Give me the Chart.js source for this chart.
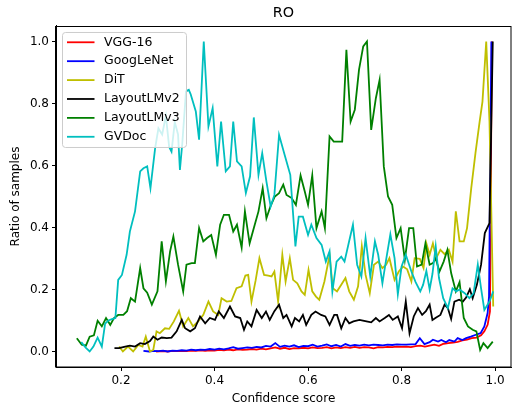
<!DOCTYPE html>
<html>
<head>
<meta charset="utf-8">
<script src="https://cdn.jsdelivr.net/npm/chart.js@4.4.1/dist/chart.umd.min.js"></script>
<style>
  html, body { margin: 0; padding: 0; background: #fff; }
</style>
</head>
<body>
<canvas id="roChart" width="514" height="407"></canvas>
<script>
// series names, in legend order
const seriesNames = ['VGG-16', 'GoogLeNet', 'DiT', 'LayoutLMv2', 'LayoutLMv3', 'GVDoc'];

const xTicks = [0.2, 0.4, 0.6, 0.8, 1.0];
const yTicks = [0.0, 0.2, 0.4, 0.6, 0.8, 1.0];

// VGG-16
const vggX = [0.275, 0.29, 0.30, 0.31, 0.32, 0.33, 0.34, 0.35, 0.36, 0.37,
  0.38, 0.39, 0.40, 0.41, 0.42, 0.43, 0.44, 0.45, 0.46, 0.47,
  0.48, 0.49, 0.50, 0.51, 0.52, 0.53, 0.54, 0.55, 0.56, 0.57,
  0.58, 0.59, 0.60, 0.61, 0.62, 0.63, 0.64, 0.65, 0.66, 0.67,
  0.68, 0.69, 0.70, 0.71, 0.72, 0.73, 0.74, 0.75, 0.76, 0.77,
  0.78, 0.79, 0.80, 0.81, 0.82, 0.83, 0.84, 0.85, 0.86, 0.87,
  0.88, 0.89, 0.90, 0.91, 0.92, 0.93, 0.94, 0.95, 0.96, 0.97,
  0.977, 0.984, 0.989, 0.993];
const vggY = [0.000, 0.001, 0.000, 0.002, 0.001, 0.002, 0.001, 0.003, 0.002, 0.004,
  0.002, 0.004, 0.003, 0.005, 0.004, 0.006, 0.004, 0.007, 0.005, 0.006,
  0.008, 0.006, 0.009, 0.007, 0.010, 0.013, 0.009, 0.012, 0.008, 0.011,
  0.010, 0.012, 0.010, 0.013, 0.011, 0.012, 0.014, 0.010, 0.013, 0.011,
  0.014, 0.012, 0.015, 0.012, 0.014, 0.013, 0.010, 0.014, 0.013, 0.015,
  0.014, 0.016, 0.015, 0.016, 0.014, 0.017, 0.019, 0.016, 0.019, 0.022,
  0.018, 0.025, 0.027, 0.029, 0.031, 0.036, 0.038, 0.043, 0.045, 0.052,
  0.065, 0.086, 0.129, 1.000];

// GoogLeNet
const googlenetX = [0.248, 0.26, 0.27, 0.28, 0.29, 0.30, 0.31, 0.32, 0.33, 0.34,
  0.35, 0.36, 0.37, 0.38, 0.39, 0.40, 0.41, 0.42, 0.43, 0.44,
  0.45, 0.46, 0.47, 0.48, 0.49, 0.50, 0.51, 0.52, 0.53, 0.54,
  0.55, 0.56, 0.57, 0.58, 0.59, 0.60, 0.61, 0.62, 0.63, 0.64,
  0.65, 0.66, 0.67, 0.68, 0.69, 0.70, 0.71, 0.72, 0.73, 0.74,
  0.75, 0.76, 0.77, 0.78, 0.79, 0.80, 0.81, 0.82, 0.83, 0.839,
  0.849, 0.86, 0.867, 0.878, 0.885, 0.895, 0.902, 0.913, 0.92, 0.93,
  0.938, 0.948, 0.959, 0.969, 0.977, 0.984, 0.987, 0.992];
const googlenetY = [0.002, 0.000, 0.002, 0.001, 0.003, 0.000, 0.003, 0.002, 0.004, 0.003,
  0.006, 0.004, 0.006, 0.005, 0.008, 0.006, 0.009, 0.007, 0.010, 0.014,
  0.009, 0.011, 0.013, 0.012, 0.015, 0.013, 0.018, 0.016, 0.027, 0.015,
  0.019, 0.016, 0.020, 0.014, 0.018, 0.017, 0.022, 0.016, 0.019, 0.023,
  0.017, 0.021, 0.016, 0.024, 0.018, 0.021, 0.019, 0.022, 0.020, 0.022,
  0.021, 0.020, 0.022, 0.021, 0.023, 0.022, 0.022, 0.023, 0.024, 0.043,
  0.024, 0.030, 0.038, 0.032, 0.037, 0.030, 0.037, 0.032, 0.043, 0.037,
  0.043, 0.048, 0.054, 0.059, 0.081, 0.124, 0.177, 1.000];

// DiT
const ditX = [0.196, 0.204, 0.215, 0.226, 0.237, 0.246, 0.253, 0.262, 0.269, 0.276,
  0.283, 0.294, 0.303, 0.313, 0.324, 0.333, 0.344, 0.354, 0.365, 0.376,
  0.387, 0.397, 0.408, 0.415, 0.426, 0.436, 0.447, 0.458, 0.466, 0.472,
  0.479, 0.488, 0.496, 0.506, 0.515, 0.522, 0.528, 0.536, 0.545, 0.552,
  0.561, 0.568, 0.577, 0.586, 0.593, 0.601, 0.609, 0.617, 0.624, 0.635,
  0.646, 0.653, 0.662, 0.671, 0.680, 0.688, 0.698, 0.707, 0.715, 0.723,
  0.732, 0.741, 0.750, 0.759, 0.767, 0.774, 0.785, 0.794, 0.803, 0.812,
  0.821, 0.828, 0.839, 0.847, 0.853, 0.860, 0.867, 0.874, 0.883, 0.892,
  0.901, 0.909, 0.916, 0.924, 0.933, 0.940, 0.949, 0.958, 0.967, 0.973,
  0.981, 0.988, 0.996];
const ditY = [0.016, 0.000, 0.016, 0.000, 0.021, 0.016, 0.048, 0.000, 0.005, 0.065,
  0.059, 0.075, 0.073, 0.097, 0.131, 0.081, 0.108, 0.081, 0.097, 0.118,
  0.161, 0.129, 0.118, 0.172, 0.161, 0.163, 0.204, 0.210, 0.245, 0.247,
  0.161, 0.230, 0.301, 0.247, 0.245, 0.242, 0.258, 0.161, 0.312, 0.226,
  0.301, 0.231, 0.220, 0.194, 0.183, 0.263, 0.194, 0.177, 0.167, 0.226,
  0.310, 0.204, 0.194, 0.215, 0.237, 0.194, 0.167, 0.210, 0.339, 0.247,
  0.188, 0.280, 0.290, 0.269, 0.280, 0.301, 0.231, 0.258, 0.274, 0.265,
  0.226, 0.301, 0.299, 0.269, 0.349, 0.312, 0.349, 0.301, 0.328, 0.314,
  0.328, 0.290, 0.452, 0.355, 0.355, 0.398, 0.527, 0.640, 0.742, 0.806,
  1.000, 0.742, 0.145];

// LayoutLMv2
const lmv2X = [0.186, 0.196, 0.209, 0.219, 0.230, 0.241, 0.251, 0.262, 0.269, 0.278,
  0.287, 0.298, 0.308, 0.319, 0.330, 0.337, 0.348, 0.358, 0.369, 0.380,
  0.390, 0.401, 0.409, 0.420, 0.433, 0.444, 0.455, 0.463, 0.470, 0.479,
  0.490, 0.501, 0.510, 0.518, 0.528, 0.538, 0.547, 0.554, 0.565, 0.572,
  0.581, 0.589, 0.596, 0.607, 0.616, 0.628, 0.637, 0.646, 0.656, 0.662,
  0.671, 0.680, 0.688, 0.697, 0.710, 0.725, 0.735, 0.745, 0.753, 0.764,
  0.773, 0.781, 0.792, 0.801, 0.809, 0.817, 0.826, 0.835, 0.844, 0.852,
  0.860, 0.866, 0.874, 0.883, 0.892, 0.899, 0.906, 0.913, 0.923, 0.931,
  0.938, 0.946, 0.952, 0.961, 0.970, 0.978, 0.988, 0.995];
const lmv2Y = [0.011, 0.011, 0.016, 0.019, 0.016, 0.027, 0.024, 0.034, 0.048, 0.038,
  0.045, 0.043, 0.045, 0.065, 0.102, 0.075, 0.065, 0.075, 0.113, 0.091,
  0.108, 0.102, 0.129, 0.108, 0.145, 0.113, 0.108, 0.070, 0.097, 0.081,
  0.134, 0.108, 0.129, 0.102, 0.130, 0.151, 0.108, 0.118, 0.081, 0.108,
  0.097, 0.118, 0.086, 0.118, 0.129, 0.118, 0.113, 0.086, 0.118, 0.118,
  0.075, 0.108, 0.091, 0.097, 0.102, 0.097, 0.094, 0.108, 0.097, 0.108,
  0.118, 0.102, 0.113, 0.075, 0.161, 0.059, 0.113, 0.140, 0.118, 0.130,
  0.151, 0.102, 0.110, 0.118, 0.151, 0.140, 0.105, 0.161, 0.167, 0.161,
  0.174, 0.201, 0.172, 0.215, 0.280, 0.382, 0.414, 1.000];

// LayoutLMv3
const lmv3X = [0.1055, 0.116, 0.125, 0.133, 0.142, 0.150, 0.159, 0.168, 0.177, 0.185,
  0.194, 0.205, 0.213, 0.221, 0.230, 0.241, 0.248, 0.256, 0.266, 0.278,
  0.287, 0.296, 0.305, 0.312, 0.322, 0.333, 0.340, 0.351, 0.358, 0.367,
  0.376, 0.384, 0.393, 0.403, 0.412, 0.420, 0.431, 0.440, 0.448, 0.458,
  0.465, 0.475, 0.486, 0.494, 0.503, 0.511, 0.520, 0.529, 0.538, 0.547,
  0.554, 0.565, 0.574, 0.584, 0.593, 0.600, 0.609, 0.618, 0.629, 0.636,
  0.646, 0.655, 0.667, 0.673, 0.682, 0.691, 0.700, 0.709, 0.718, 0.726,
  0.735, 0.745, 0.753, 0.762, 0.771, 0.780, 0.789, 0.798, 0.807, 0.816,
  0.825, 0.833, 0.843, 0.851, 0.860, 0.867, 0.873, 0.881, 0.890, 0.898,
  0.906, 0.916, 0.924, 0.933, 0.942, 0.952, 0.960, 0.968, 0.975, 0.984,
  0.995];
const lmv3Y = [0.043, 0.022, 0.019, 0.048, 0.052, 0.099, 0.081, 0.108, 0.086, 0.108,
  0.118, 0.118, 0.130, 0.172, 0.161, 0.269, 0.204, 0.190, 0.151, 0.194,
  0.355, 0.226, 0.323, 0.371, 0.280, 0.194, 0.280, 0.285, 0.285, 0.398,
  0.355, 0.366, 0.376, 0.312, 0.409, 0.441, 0.441, 0.387, 0.409, 0.335,
  0.452, 0.349, 0.409, 0.452, 0.527, 0.430, 0.470, 0.500, 0.511, 0.538,
  0.505, 0.495, 0.473, 0.568, 0.516, 0.473, 0.568, 0.398, 0.452, 0.398,
  0.694, 0.677, 0.677, 0.677, 0.973, 0.742, 0.780, 0.909, 0.984, 1.000,
  0.715, 0.817, 0.876, 0.597, 0.500, 0.473, 0.366, 0.398, 0.296, 0.398,
  0.398, 0.274, 0.280, 0.349, 0.280, 0.285, 0.300, 0.258, 0.290, 0.328,
  0.253, 0.194, 0.224, 0.108, 0.081, 0.070, 0.065, 0.005, 0.027, 0.011,
  0.032];

// GVDoc
const gvdocX = [0.115, 0.125, 0.133, 0.141, 0.150, 0.159, 0.166, 0.173, 0.182, 0.188,
  0.194, 0.202, 0.212, 0.219, 0.230, 0.241, 0.248, 0.256, 0.263, 0.273,
  0.280, 0.288, 0.296, 0.303, 0.308, 0.315, 0.322, 0.326, 0.331, 0.339,
  0.345, 0.349, 0.360, 0.367, 0.377, 0.387, 0.396, 0.406, 0.414, 0.424,
  0.433, 0.440, 0.448, 0.458, 0.467, 0.476, 0.484, 0.494, 0.502, 0.511,
  0.520, 0.528, 0.538, 0.550, 0.562, 0.573, 0.580, 0.589, 0.600, 0.607,
  0.618, 0.629, 0.638, 0.646, 0.652, 0.661, 0.671, 0.678, 0.687, 0.696,
  0.705, 0.714, 0.723, 0.733, 0.743, 0.750, 0.759, 0.767, 0.776, 0.785,
  0.792, 0.800, 0.809, 0.821, 0.830, 0.840, 0.846, 0.853, 0.860, 0.866,
  0.873, 0.880, 0.889, 0.899, 0.909, 0.917, 0.924, 0.935, 0.945, 0.954,
  0.963, 0.970, 0.977, 0.988, 0.996];
const gvdocY = [0.030, 0.012, 0.000, 0.016, 0.045, 0.016, 0.090, 0.100, 0.105, 0.108,
  0.231, 0.247, 0.312, 0.387, 0.452, 0.581, 0.591, 0.597, 0.527, 0.656,
  0.720, 0.700, 0.760, 0.660, 0.645, 0.740, 0.700, 0.586, 0.670, 0.839,
  0.844, 0.830, 0.774, 0.683, 1.000, 0.726, 0.785, 0.597, 0.742, 0.581,
  0.597, 0.742, 0.613, 0.597, 0.511, 0.565, 0.755, 0.570, 0.640, 0.548,
  0.468, 0.505, 0.699, 0.634, 0.570, 0.339, 0.435, 0.435, 0.376, 0.409,
  0.366, 0.344, 0.290, 0.323, 0.194, 0.290, 0.306, 0.290, 0.350, 0.409,
  0.280, 0.242, 0.366, 0.242, 0.355, 0.312, 0.220, 0.296, 0.378, 0.301,
  0.185, 0.274, 0.312, 0.258, 0.224, 0.194, 0.215, 0.260, 0.200, 0.250,
  0.339, 0.237, 0.172, 0.140, 0.204, 0.194, 0.200, 0.188, 0.172, 0.188,
  0.280, 0.204, 0.134, 0.161, 0.194];

const seriesX = [vggX, googlenetX, ditX, lmv2X, lmv3X, gvdocX];
const seriesY = [vggY, googlenetY, ditY, lmv2Y, lmv3Y, gvdocY];
const lineColors = ['#ff0000', '#0000ff', '#bfbf00', '#000000', '#008000', '#00bfbf'];

Chart.defaults.font.family = "'DejaVu Sans', sans-serif";
Chart.defaults.font.size = 12;
Chart.defaults.color = '#000';

const datasets = seriesNames.map(function(name, i) {
  return {
    label: name,
    data: seriesX[i].map(function(x, j) { return { x: x, y: seriesY[i][j] }; }),
    borderColor: lineColors[i],
    backgroundColor: lineColors[i],
    borderWidth: 1.8,
    pointRadius: 0,
    tension: 0,
    fill: false,
    order: seriesNames.length - i   // later series drawn on top
  };
});

// box around the plot (top and right edges too)
const frame = {
  id: 'frame',
  afterDatasetsDraw(chart) {
    const a = chart.chartArea;
    const c = chart.ctx;
    c.save();
    c.strokeStyle = '#000';
    c.lineWidth = 1;
    c.strokeRect(Math.round(a.left) - 0.5, Math.round(a.top) + 0.5,
                 Math.round(a.right - a.left) + 0.5, Math.round(a.bottom - a.top) - 0.5);
    c.restore();
  }
};

// legend box in the upper left corner of the plot
const boxLegend = {
  id: 'boxLegend',
  afterDraw(chart) {
    const a = chart.chartArea;
    const c = chart.ctx;
    const x0 = a.left + 6.5, y0 = a.top + 6.5;
    const w = 124, h = 115, rowH = 18.9;
    c.save();
    c.beginPath();
    c.roundRect(x0, y0, w, h, 3);
    c.fillStyle = 'rgba(255,255,255,0.8)';
    c.fill();
    c.strokeStyle = '#cccccc';
    c.lineWidth = 1;
    c.stroke();
    c.font = "12.5px 'DejaVu Sans'";
    c.textBaseline = 'middle';
    chart.data.datasets.forEach(function(ds, i) {
      const y = y0 + 9.8 + i * rowH;
      c.strokeStyle = ds.borderColor;
      c.lineWidth = 1.8;
      c.beginPath();
      c.moveTo(x0 + 4.5, y);
      c.lineTo(x0 + 32, y);
      c.stroke();
      c.fillStyle = '#000';
      c.fillText(ds.label, x0 + 41.5, y);
    });
    c.restore();
  }
};

new Chart(document.getElementById('roChart'), {
  type: 'line',
  data: { datasets: datasets },
  options: {
    responsive: false,
    devicePixelRatio: 1,
    animation: false,
    events: [],
    layout: { padding: { left: 0, right: 3, top: 0, bottom: 0 } },
    plugins: {
      legend: { display: false },
      tooltip: { enabled: false },
      title: {
        display: true,
        text: 'RO',
        color: '#000',
        fullSize: false,
        font: { size: 14.4, weight: 'normal' },
        padding: { top: 5, bottom: 3.7 }
      }
    },
    scales: {
      x: {
        type: 'linear',
        min: 0.061,
        max: 1.034,
        afterBuildTicks: function(axis) {
          axis.ticks = xTicks.map(function(v) { return { value: v }; });
        },
        afterFit: function(axis) { axis.height = 40; },
        ticks: {
          autoSkip: false,
          maxRotation: 0,
          padding: 3,
          callback: function(value) { return value.toFixed(1); }
        },
        grid: { display: true, drawOnChartArea: false, drawTicks: true, tickLength: 4, color: '#000' },
        border: { display: true, color: '#000', width: 1 },
        title: { display: true, text: 'Confidence score', padding: { top: 0, bottom: 1.3 } }
      },
      y: {
        type: 'linear',
        min: -0.05,
        max: 1.05,
        afterBuildTicks: function(axis) {
          axis.ticks = yTicks.map(function(v) { return { value: v }; });
        },
        afterFit: function(axis) { axis.width = 56; },
        ticks: {
          autoSkip: false,
          padding: 3,
          callback: function(value) { return value.toFixed(1); }
        },
        grid: { display: true, drawOnChartArea: false, drawTicks: true, tickLength: 4, color: '#000' },
        border: { display: true, color: '#000', width: 1 },
        title: { display: true, text: 'Ratio of samples', padding: { top: 8.8, bottom: 0 } }
      }
    }
  },
  plugins: [frame, boxLegend]
});
</script>
</body>
</html>
